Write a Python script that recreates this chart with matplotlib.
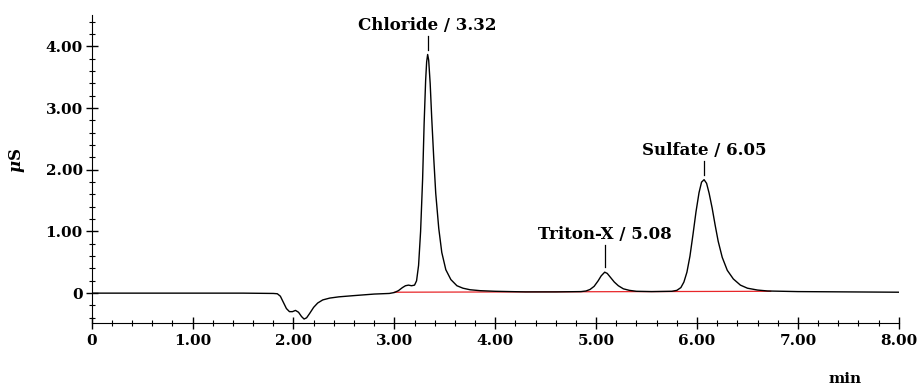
import numpy as np
import matplotlib
matplotlib.use("Agg")
import matplotlib.pyplot as plt
from matplotlib.ticker import MultipleLocator

# retention time (min) and conductivity (uS)
time_min = [0.0, 0.5, 1.0, 1.5, 1.8, 1.84, 1.87, 1.90, 1.93, 1.96, 1.99, 2.02,
            2.05, 2.08, 2.105, 2.13, 2.16, 2.20, 2.24, 2.29, 2.36, 2.45, 2.6,
            2.8, 2.95, 3.0, 3.04, 3.08, 3.11, 3.14, 3.17, 3.20, 3.22, 3.24,
            3.26, 3.28, 3.295, 3.31, 3.32, 3.33, 3.34, 3.355, 3.37, 3.39, 3.41,
            3.44, 3.47, 3.51, 3.56, 3.62, 3.68, 3.75, 3.85, 4.0, 4.3, 4.6, 4.85,
            4.90, 4.94, 4.98, 5.02, 5.05, 5.085, 5.11, 5.14, 5.18, 5.22, 5.27,
            5.33, 5.40, 5.55, 5.75, 5.80, 5.84, 5.87, 5.90, 5.93, 5.96, 5.99,
            6.02, 6.045, 6.07, 6.095, 6.12, 6.15, 6.18, 6.21, 6.25, 6.30, 6.36,
            6.43, 6.50, 6.60, 6.70, 7.0, 7.5, 8.0]
signal_us = [0.0, 0.0, 0.0, 0.0, -0.005, -0.01, -0.05, -0.15, -0.25, -0.30,
             -0.30, -0.28, -0.31, -0.38, -0.42, -0.40, -0.33, -0.23, -0.16,
             -0.11, -0.08, -0.06, -0.04, -0.015, -0.005, 0.01, 0.04, 0.09, 0.12,
             0.13, 0.12, 0.13, 0.2, 0.45, 1.0, 1.85, 2.75, 3.45, 3.75, 3.87,
             3.78, 3.4, 2.85, 2.2, 1.62, 1.05, 0.66, 0.38, 0.22, 0.12, 0.08,
             0.055, 0.04, 0.03, 0.02, 0.02, 0.025, 0.035, 0.06, 0.11, 0.2, 0.28,
             0.34, 0.32, 0.26, 0.18, 0.12, 0.07, 0.045, 0.03, 0.025, 0.03, 0.045,
             0.09, 0.18, 0.34, 0.60, 0.95, 1.32, 1.63, 1.80, 1.84, 1.78, 1.62,
             1.38, 1.10, 0.84, 0.58, 0.37, 0.23, 0.13, 0.08, 0.05, 0.035, 0.025,
             0.02, 0.015]

# integration baseline
base_t = [3.0, 6.73]
base_y = [0.015, 0.03]

peak_names = ["Chloride", "Triton-X", "Sulfate"]
peak_times = [3.32, 5.08, 6.05]
peak_apex = [3.33, 5.085, 6.07]

plt.rcParams["font.family"] = "DejaVu Serif"
plt.rcParams["font.weight"] = "bold"
plt.rcParams["mathtext.fontset"] = "dejavuserif"

fig = plt.figure(figsize=(9.19, 3.91), dpi=100)
ax = fig.add_axes([0.0998, 0.173, 0.978 - 0.0998, 0.9616 - 0.173])

ax.plot(base_t, base_y, color="#e8262a", lw=0.9)
ax.plot(time_min, signal_us, color="black", lw=1.0)

for name, rt, ta in zip(peak_names, peak_times, peak_apex):
    top = np.interp(ta, time_min, signal_us)
    gap = 0.54 if name == "Triton-X" else 0.40
    ax.plot([ta, ta], [top + 0.08, top + gap - 0.1], color="black", lw=0.9)
    ax.text(ta, top + gap, f"{name} / {rt:.2f}", ha="center", va="baseline",
            fontsize=12, fontweight="bold")

ax.set_xlim(0, 8)
ax.set_ylim(-0.49, 4.51)
ax.spines["top"].set_visible(False)
ax.spines["right"].set_visible(False)
ax.xaxis.set_minor_locator(MultipleLocator(0.2))
ax.yaxis.set_minor_locator(MultipleLocator(0.2))
ax.set_xticks(range(9))
ax.set_xticklabels(["0"] + [f"{v:.2f}" for v in range(1, 9)])
ax.set_yticks(range(5))
ax.set_yticklabels(["0"] + [f"{v:.2f}" for v in range(1, 5)])
ax.tick_params(axis="x", which="major", direction="inout", length=8, width=1,
               labelsize=11, pad=4)
ax.tick_params(axis="x", which="minor", direction="inout", length=4, width=0.8)
ax.tick_params(axis="y", which="major", direction="inout", length=9, width=1,
               labelsize=11, pad=2)
ax.tick_params(axis="y", which="minor", direction="inout", length=4, width=0.8)
for lab in ax.get_xticklabels() + ax.get_yticklabels():
    lab.set_fontweight("bold")

fig.text(0.019, 0.59, r"$\mu$S", rotation=90, ha="center", va="center",
         fontsize=12, fontweight="bold")
fig.text(0.92, 0.03, "min", ha="center", va="center", fontsize=11,
         fontweight="bold")

fig.savefig("out.png", dpi=100)
